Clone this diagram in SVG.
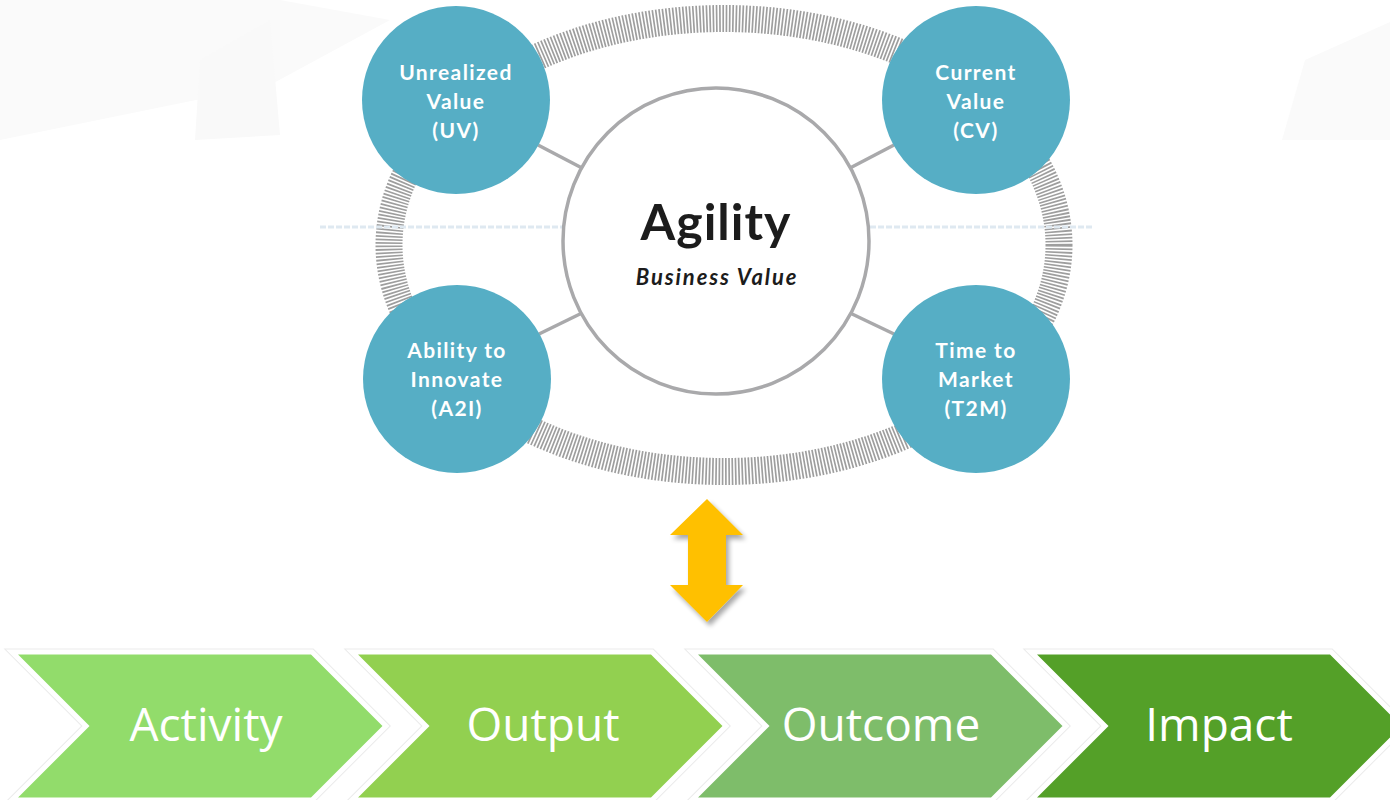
<svg xmlns="http://www.w3.org/2000/svg" width="1390" height="800" viewBox="0 0 1390 800">
  <defs>
    <style>
      .ring { fill: none; stroke: #9e9e9e; stroke-width: 27; stroke-dasharray: 1.7 1.6; }
      .guide { stroke: #dfe9f1; stroke-width: 3; stroke-dasharray: 6 2; }
      .link { stroke: #a9a9ab; stroke-width: 3.5; }
      .bubble { fill: #56aec5; }
      .bubble-text { font-family: Lato, "Open Sans", sans-serif; font-weight: 700; font-size: 21px; fill: #ffffff; text-anchor: middle; letter-spacing: 1.4px; }
      .core { fill: #ffffff; stroke: #a9a9ab; stroke-width: 3.5; }
      .core-title { font-family: Lato, "Open Sans", sans-serif; font-weight: 700; font-size: 50px; fill: #1c1c1c; text-anchor: middle; letter-spacing: 1px; }
      .core-sub { font-family: Lato, "Open Sans", sans-serif; font-weight: 700; font-style: italic; font-size: 22px; fill: #1c1c1c; text-anchor: middle; letter-spacing: 1.9px; }
      .chev-halo { fill: none; stroke: #ebebeb; stroke-width: 7; stroke-linejoin: miter; }
      .chev { stroke: #ffffff; stroke-width: 5; stroke-linejoin: miter; }
      .chev-text { font-family: "Open Sans", "Noto Sans", sans-serif; font-size: 46px; fill: #ffffff; text-anchor: middle; }
    </style>
    <filter id="arrowShadow" x="-30%" y="-20%" width="160%" height="140%">
      <feGaussianBlur in="SourceAlpha" stdDeviation="2.5"/>
      <feOffset dx="3" dy="4" result="off"/>
      <feComponentTransfer><feFuncA type="linear" slope="0.35"/></feComponentTransfer>
      <feMerge><feMergeNode/><feMergeNode in="SourceGraphic"/></feMerge>
    </filter>
    <path id="chevShape" d="M0 0 H300 L374 74 L300 148 H0 L74 74 Z"/>
  </defs>

  <!-- page background with faint paper shapes -->
  <rect x="0" y="0" width="1390" height="800" fill="#ffffff"/>
  <polygon points="0,0 280,0 390,20 270,85 0,140" fill="#fafafa"/>
  <polygon points="200,60 270,20 280,135 195,140" fill="#f9f9f9"/>
  <polygon points="1305,60 1390,22 1390,140 1282,140" fill="#fafafa"/>

  <!-- hatched orbit -->
  <ellipse class="ring" cx="724" cy="245" rx="335" ry="226.5"/>

  <!-- dashed horizontal guide -->
  <line class="guide" x1="320" y1="227" x2="562" y2="227"/>
  <line class="guide" x1="870" y1="227" x2="1094" y2="227"/>

  <!-- connectors -->
  <g id="connectors">
    <line class="link" x1="538" y1="145" x2="582" y2="168"/>
    <line class="link" x1="894" y1="145" x2="850" y2="168"/>
    <line class="link" x1="539" y1="334" x2="582" y2="313"/>
    <line class="link" x1="894" y1="334" x2="850" y2="313"/>
  </g>

  <!-- central node -->
  <g id="agility">
    <circle class="core" cx="716" cy="241" r="153"/>
    <text class="core-title" x="716" y="240">Agility</text>
    <text class="core-sub" x="717" y="285">Business Value</text>
  </g>

  <g id="uv">
    <circle class="bubble" cx="456" cy="100" r="94"/>
    <text class="bubble-text" x="456" y="80">Unrealized</text>
    <text class="bubble-text" x="456" y="109">Value</text>
    <text class="bubble-text" x="456" y="138">(UV)</text>
  </g>

  <g id="cv">
    <circle class="bubble" cx="976" cy="100" r="94"/>
    <text class="bubble-text" x="976" y="80">Current</text>
    <text class="bubble-text" x="976" y="109">Value</text>
    <text class="bubble-text" x="976" y="138">(CV)</text>
  </g>

  <g id="a2i">
    <circle class="bubble" cx="457" cy="379" r="94"/>
    <text class="bubble-text" x="457" y="358">Ability to</text>
    <text class="bubble-text" x="457" y="387">Innovate</text>
    <text class="bubble-text" x="457" y="416">(A2I)</text>
  </g>

  <g id="t2m">
    <circle class="bubble" cx="976" cy="379" r="94"/>
    <text class="bubble-text" x="976" y="358">Time to</text>
    <text class="bubble-text" x="976" y="387">Market</text>
    <text class="bubble-text" x="976" y="416">(T2M)</text>
  </g>

  <!-- two-way arrow -->
  <g id="link-arrow" filter="url(#arrowShadow)">
    <polygon fill="#ffc000" points="707,499 743,535 726,535 726,585 743,585 707,622 670,585 688,585 688,535 670,535"/>
  </g>

  <!-- result chain -->
  <g id="activity">
    <use href="#chevShape" class="chev-halo" x="12" y="652"/>
    <use href="#chevShape" class="chev" x="12" y="652" fill="#92dc6b"/>
    <text class="chev-text" x="206" y="741">Activity</text>
  </g>
  <g id="output">
    <use href="#chevShape" class="chev-halo" x="352" y="652"/>
    <use href="#chevShape" class="chev" x="352" y="652" fill="#92d050"/>
    <text class="chev-text" x="543" y="741">Output</text>
  </g>
  <g id="outcome">
    <use href="#chevShape" class="chev-halo" x="692" y="652"/>
    <use href="#chevShape" class="chev" x="692" y="652" fill="#7ebd6a"/>
    <text class="chev-text" x="881" y="741">Outcome</text>
  </g>
  <g id="impact">
    <use href="#chevShape" class="chev-halo" x="1031" y="652"/>
    <use href="#chevShape" class="chev" x="1031" y="652" fill="#54a028"/>
    <text class="chev-text" x="1219" y="741">Impact</text>
  </g>
</svg>
